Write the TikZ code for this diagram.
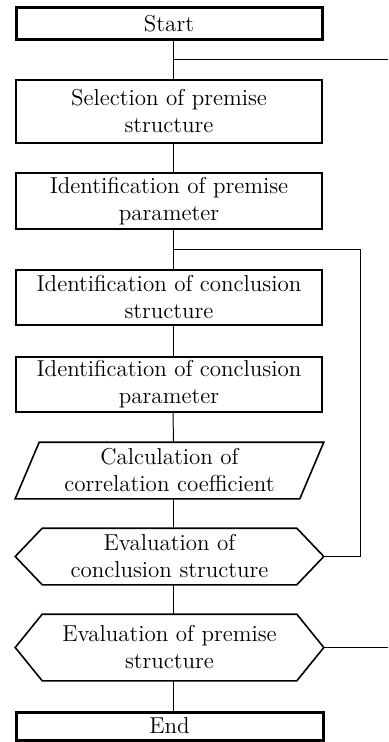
\documentclass[tikz,border=0pt]{standalone}
\usepackage{tikz}
\usetikzlibrary{positioning}
\tikzset{box/.style = {draw, line width=0.8pt, minimum width=153pt, inner sep=0pt,
                       align=center, font=\fontsize{11.5}{13.5}\selectfont},
         term/.style = {box, line width=1.5pt},
         outline/.style = {box, draw=none, minimum width=153.5pt},
         flow/.style = {line width=0.5pt}}

\begin{document}
\begin{tikzpicture}[x=0.5pt, y=-0.5pt]
    \useasboundingbox (0, 0) rectangle (388, 742);

    \node [term, minimum height=16pt] (start) at (169, 24) {Start};
    \node [box, minimum height=31.5pt] (selprem) at (169, 111.5) {Selection of premise\\structure};
    \node [box, minimum height=28pt] (idprem) at (169, 201) {Identification of premise\\parameter};
    \node [box, minimum height=27.5pt] (idconcl) at (169, 297.5) {Identification of conclusion\\structure};
    \node [box, minimum height=27.5pt] (idconclpar) at (169, 384.5) {Identification of conclusion\\parameter};
    \node [outline, minimum height=27.5pt] (calc) at (169.5, 470.5) {Calculation of\\correlation coefficient};
    \node [outline, minimum height=27.5pt] (evalconcl) at (169.5, 556.5) {Evaluation of\\conclusion structure};
    \node [outline, minimum height=32.5pt] (evalprem) at (169.5, 647.5) {Evaluation of premise\\structure};
    \node [term, minimum height=14pt, minimum width=153.5pt] (finish) at (169.5, 726) {End};

    % parallelogram and hexagons
    \draw [line width=0.8pt] ([xshift=12pt]calc.north west) -- (calc.north east)
      -- ([xshift=-12pt]calc.south east) -- (calc.south west) -- cycle;
    \foreach \n in {evalconcl,evalprem} {
      \draw [line width=0.8pt] (\n.west) -- ([xshift=13.5pt]\n.north west)
        -- ([xshift=-13.5pt]\n.north east) -- (\n.east)
        -- ([xshift=-13.5pt]\n.south east) -- ([xshift=13.5pt]\n.south west) -- cycle;
    }

    \foreach \a/\b in {start/selprem,selprem/idprem,idprem/idconcl,idconcl/idconclpar,
                       idconclpar/calc,calc/evalconcl,evalconcl/evalprem,evalprem/finish} {
      \draw [flow] ([xshift=2pt]\a.south) -- ([xshift=2pt]\b.north);
    }

    \coordinate (trunk) at ([xshift=2pt]start.south);
    \coordinate (back) at (388, 60);
    \coordinate (corner) at (360, 250);
    \coordinate (out) at (388, 650);

    \draw [flow] (trunk |- back) -- (back);
    \draw [flow] (evalconcl.east) -| (corner) -- (trunk |- corner);
    \draw [flow] (evalprem.east) -- (out |- evalprem.east);
  \end{tikzpicture}
\end{document}
